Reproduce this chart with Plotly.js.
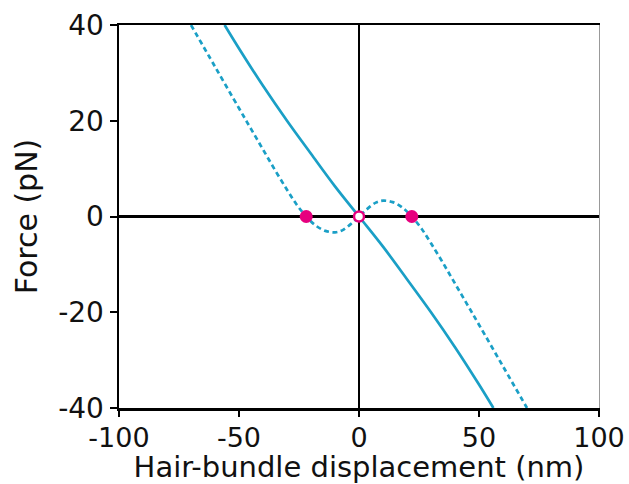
<!DOCTYPE html>
<html>
<head>
<meta charset="utf-8">
<script src="https://cdn.plot.ly/plotly-3.0.1.min.js"></script>
<style>html,body{margin:0;padding:0;background:#fff;}#chart{width:629px;height:484px;}</style>
</head>
<body>
<div id="chart"></div>
<script>
// Passive (solid) curve
const dispSolid  = [-56, -50, -40, -30, -20, -10, 0, 10, 20, 30, 40, 50, 56];
const forceSolid = [40, 35.1, 27.3, 20.0, 13.1, 6.3, 0, -6.3, -13.1, -20.0, -27.3, -35.1, -40];
// Active (dashed) curve with negative-stiffness region
const dispDashed  = [-70, -60, -50, -45, -40, -35, -30, -26, -22, -18, -14, -10, -7, -3, 0, 3, 7, 10, 14, 18, 22, 26, 30, 35, 40, 45, 50, 60, 70];
const forceDashed = [40, 31.3, 22.6, 18.3, 14.0, 9.7, 5.6, 2.5, 0, -1.9, -3.0, -3.3, -2.9, -1.4, 0, 1.4, 2.9, 3.3, 3.0, 1.9, 0, -2.5, -5.6, -9.7, -14.0, -18.3, -22.6, -31.3, -40];
// Fixed points
const stableX = [-22, 22];
const stableY = [0, 0];
const unstableX = [0];
const unstableY = [0];
// Ticks
const xTicks = [-100, -50, 0, 50, 100];
const yTicks = [-40, -20, 0, 20, 40];

const curveColor = '#1a9fc6';
const pink = '#e6007e';
const font = 'DejaVu Sans, sans-serif';

const data = [
  {x: dispSolid, y: forceSolid, mode: 'lines', line: {color: curveColor, width: 2.7, shape: 'spline', smoothing: 1}, hoverinfo: 'skip'},
  {x: dispDashed, y: forceDashed, mode: 'lines', line: {color: curveColor, width: 2.7, dash: '5px,3.5px', shape: 'spline', smoothing: 1}, hoverinfo: 'skip'},
  {x: stableX, y: stableY, mode: 'markers', marker: {color: pink, size: 13, line: {width: 0}}},
  {x: unstableX, y: unstableY, mode: 'markers', marker: {color: '#ffffff', size: 10, line: {color: pink, width: 2.5}}}
];

const layout = {
  width: 629, height: 484,
  margin: {l: 119, r: 30, t: 25, b: 76},
  paper_bgcolor: '#fff', plot_bgcolor: '#fff',
  showlegend: false,
  font: {family: font, color: '#111', size: 28},
  xaxis: {
    range: [-100, 100], tickvals: xTicks, ticktext: xTicks.map(String),
    showgrid: false, zeroline: true, zerolinecolor: '#000', zerolinewidth: 2.5,
    showline: true, linecolor: '#000', linewidth: 2.5, mirror: true,
    ticks: 'outside', ticklen: 6, tickwidth: 2, tickcolor: '#000',
    ticklabelstandoff: -2,
    tickfont: {family: font, size: 27, color: '#111'},
    title: {text: 'Hair-bundle displacement (nm)', font: {family: font, size: 29, color: '#111'}, standoff: 2}
  },
  yaxis: {
    range: [-40, 40], tickvals: yTicks, ticktext: yTicks.map(String),
    showgrid: false, zeroline: true, zerolinecolor: '#000', zerolinewidth: 2.5,
    showline: true, linecolor: '#000', linewidth: 2.5,
    ticks: 'outside', ticklen: 7, tickwidth: 2, tickcolor: '#000',
    tickfont: {family: font, size: 28, color: '#111'},
    title: {text: 'Force (pN)', font: {family: font, size: 30, color: '#111'}, standoff: 12}
  },
  yaxis2: {
    range: [-40, 40], overlaying: 'y', side: 'right',
    showgrid: false, zeroline: false, showticklabels: false, ticks: '',
    showline: true, linecolor: '#999', linewidth: 1
  }
};
data.push({x: [0], y: [0], yaxis: 'y2', mode: 'markers', marker: {opacity: 0}, hoverinfo: 'skip'});

Plotly.newPlot('chart', data, layout, {displayModeBar: false, staticPlot: true});
</script>
</body>
</html>
